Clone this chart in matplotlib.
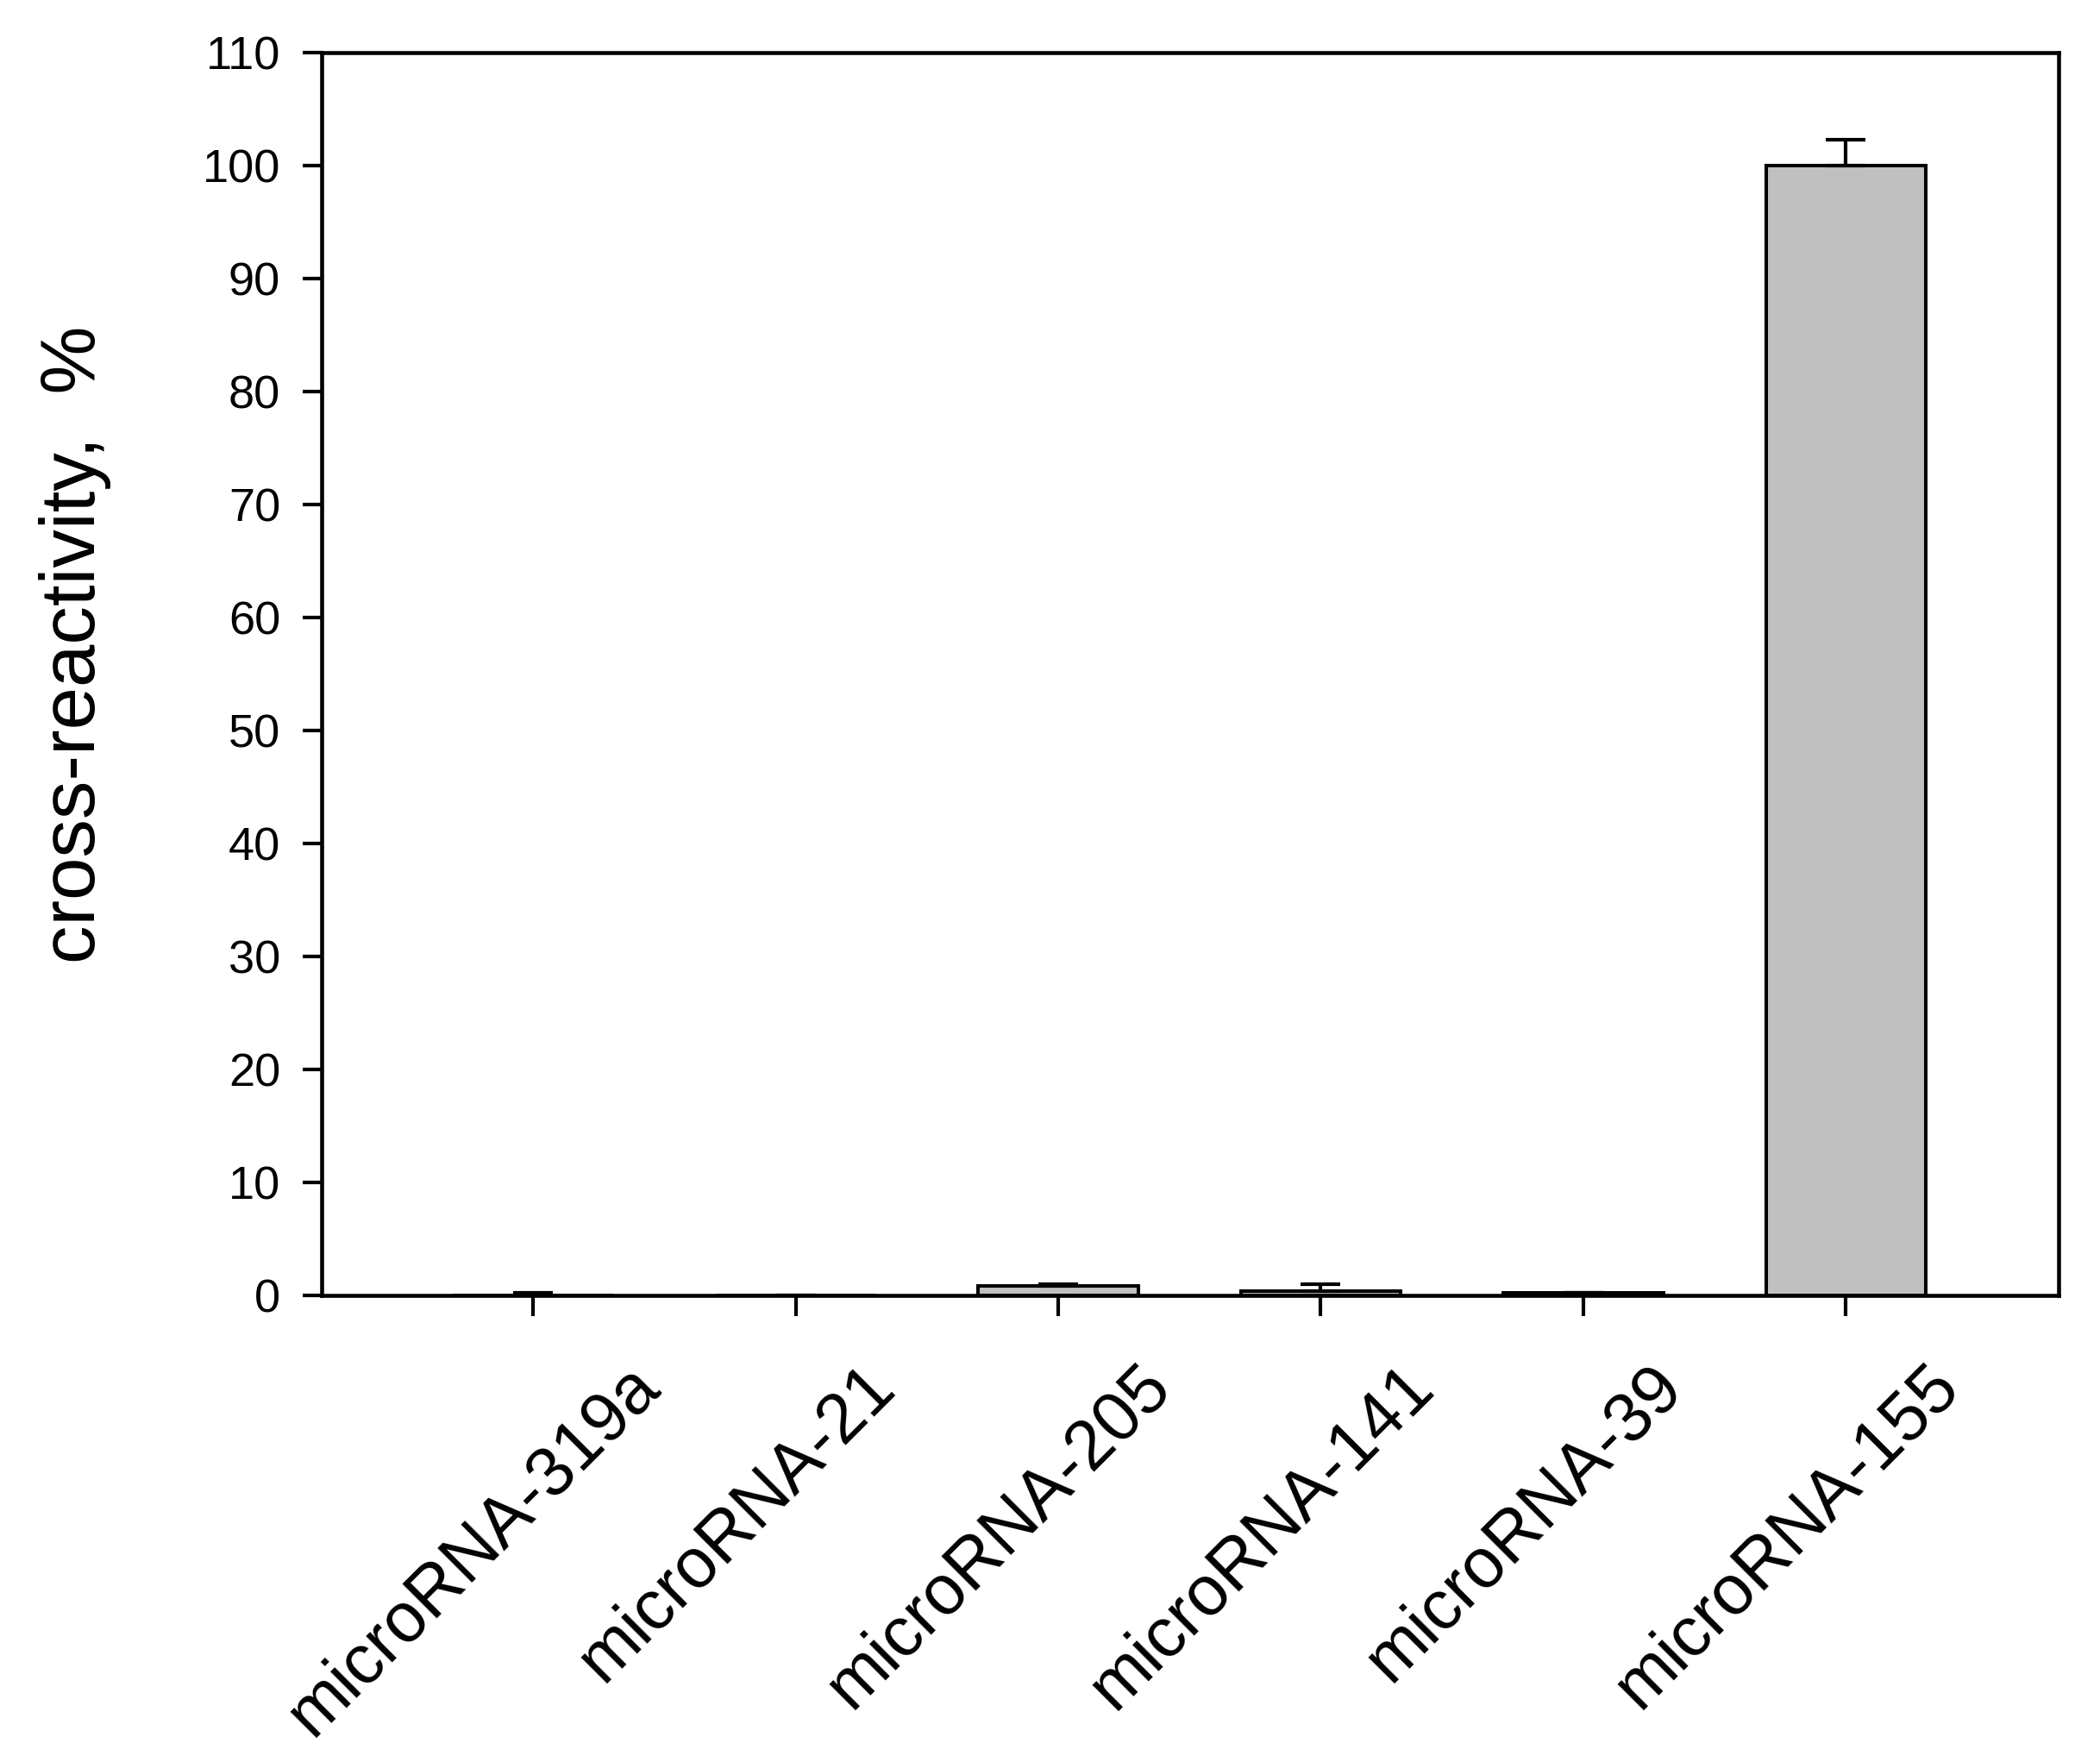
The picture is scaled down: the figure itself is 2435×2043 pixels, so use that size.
import matplotlib
matplotlib.use("Agg")
import matplotlib.pyplot as plt
import matplotlib.transforms as mtransforms
import numpy as np

categories = ["microRNA-319a", "microRNA-21", "microRNA-205", "microRNA-141", "microRNA-39", "microRNA-155"]
values = [0.0, 0.0, 0.86, 0.4, 0.25, 100.0]
errors = [0.2, 0.0, 0.13, 0.6, 0.0, 2.3]
yticks = [0, 10, 20, 30, 40, 50, 60, 70, 80, 90, 100, 110]

plt.rcParams['font.family'] = ['Liberation Sans', 'DejaVu Sans']

DPI = 100
fig = plt.figure(figsize=(24.35, 20.43), dpi=DPI)
ax = fig.add_axes([373/2435, 1-1502/2043, (2387-373)/2435, (1502-61)/2043])

x = np.arange(len(categories))
ax.bar(x, values, width=0.61, color='#C0C0C0', edgecolor='black', linewidth=2.9, zorder=2)
ax.errorbar(x, values, yerr=[np.zeros(len(errors)), errors], fmt='none', ecolor='black',
            elinewidth=3.0, capsize=16.5, capthick=3.0, zorder=3)

ax.set_xlim(-0.805, 5.81)
ax.set_ylim(0, 110)
ax.set_yticks(yticks)
ax.set_yticklabels([str(v) for v in yticks], fontsize=39)
ax.set_xticks(x)
ax.set_xticklabels(categories, fontsize=58, rotation=45, ha='center', va='top')

for s in ax.spines.values():
    s.set_linewidth(3.3)
    s.set_zorder(4)
ax.tick_params(axis='y', direction='out', length=16, width=3.0, pad=18.5, right=False)
ax.tick_params(axis='x', direction='out', length=17, width=3.0, pad=31, top=False)

offset = mtransforms.ScaledTranslation(-68/DPI, 0, fig.dpi_scale_trans)
for lab in ax.get_xticklabels():
    lab.set_transform(lab.get_transform() + offset)

fig.text(87/2435, 1-747/2043, "cross-reactivity,  %", rotation=90, ha='center', va='center', fontsize=64)

fig.savefig("out.png", dpi=DPI)
